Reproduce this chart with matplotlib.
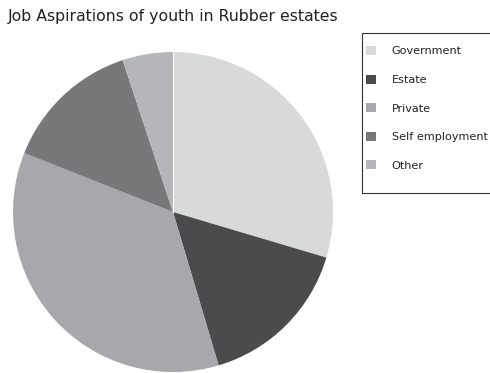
import matplotlib.pyplot as plt
from matplotlib.patches import Patch, Rectangle

# ───────── data ─────────
labels = ['Government', 'Estate', 'Private', 'Self employment', 'Other']
shares = [29.6, 15.8, 35.6, 13.9, 5.1]
colors = ['#d8d9db', '#4b4b4d', '#a6a8ab', '#77787a', '#b4b6b9']

W, H = 490, 373
fig = plt.figure(figsize=(W / 100, H / 100), dpi=100)
fig.patch.set_facecolor('white')

# pie axes, placed by pixel box
ax = fig.add_axes([12 / W, 1 / H, 322 / W, 320 / H])
ax.pie(shares, colors=colors, startangle=90, counterclock=False,
       wedgeprops=dict(linewidth=0))
ax.set_aspect('equal')
ax.set_xlim(-1, 1)
ax.set_ylim(-1, 1)
ax.axis('off')
# thin white seam at the top
ax.plot([0, 0], [0, 1], color='white', lw=0.8)

fig.text(8 / W, 1 - 16 / H, 'Job Aspirations of youth in Rubber estates',
         fontsize=11.3, color='#222222', va='center', ha='left')

# legend box drawn by hand, legend itself frameless
fig.patches.append(Rectangle((362 / W, 1 - 193 / H), 140 / W, 160 / H,
                             transform=fig.transFigure, fill=False,
                             edgecolor='#333333', linewidth=0.8))
handles = [Patch(facecolor=c, edgecolor='none') for c in colors]
leg = fig.legend(handles, labels, loc='upper left',
                 bbox_to_anchor=(366 / W, 1 - 46 / H),
                 fontsize=8.1, frameon=False,
                 handlelength=0.85, handleheight=0.85, handletextpad=1.45,
                 labelspacing=1.62, borderpad=0, borderaxespad=0)
for t in leg.get_texts():
    t.set_color('#222222')

fig.savefig('out.png', dpi=100)
